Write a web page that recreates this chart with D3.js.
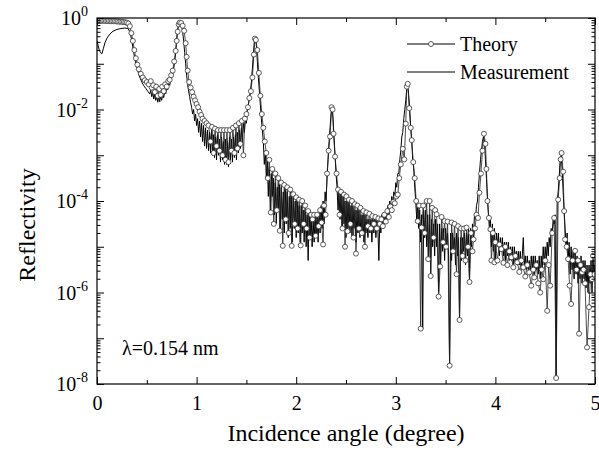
<!DOCTYPE html>
<html>
<head>
<meta charset="utf-8">
<script src="https://cdn.jsdelivr.net/npm/d3@7"></script>
<style>
  body { margin: 0; background: #fff; }
  svg { display: block; }
  text { font-family: "Liberation Serif", "Times New Roman", serif; fill: #000; }
</style>
</head>
<body>
<script>
// x tick values / labels
var angleTicks = [0, 1, 2, 3, 4, 5];
var angleMinorTicks = [0.5, 1.5, 2.5, 3.5, 4.5];
// exponents of the labelled decades on the y axis
var decadeLabels = [0, -2, -4, -6, -8];
var seriesNames = ["Theory", "Measurement"];

// theory: [angle (deg), log10 reflectivity]
var theoryLogR = [
	[0,-0.06],[0.015,-0.06],[0.03,-0.06],[0.045,-0.06],[0.06,-0.06],[0.075,-0.06],[0.09,-0.065],[0.105,-0.065],
	[0.12,-0.065],[0.135,-0.07],[0.15,-0.07],[0.165,-0.07],[0.18,-0.07],[0.195,-0.075],[0.21,-0.075],[0.225,-0.08],
	[0.24,-0.08],[0.255,-0.085],[0.27,-0.09],[0.285,-0.095],[0.3,-0.1],[0.315,-0.12],
	[0.33,-0.18],[0.345,-0.33],[0.36,-0.5],[0.375,-0.7],[0.39,-0.88],[0.405,-1.02],[0.42,-1.12],[0.44,-1.22],
	[0.46,-1.3],[0.48,-1.36],[0.5,-1.4],[0.52,-1.45],[0.54,-1.38],[0.55,-1.52],[0.565,-1.47],[0.58,-1.62],
	[0.595,-1.5],[0.61,-1.7],[0.625,-1.55],[0.64,-1.68],[0.655,-1.5],[0.67,-1.6],[0.685,-1.45],[0.7,-1.5],
	[0.715,-1.38],[0.73,-1.35],[0.745,-1.25],[0.76,-1.15],[0.775,-0.95],[0.79,-0.72],[0.8,-0.5],[0.81,-0.3],
	[0.82,-0.14],[0.83,-0.1],[0.845,-0.11],[0.86,-0.17],[0.875,-0.28],[0.89,-0.55],[0.9,-0.85],[0.91,-1.15],
	[0.925,-1.4],[0.94,-1.52],[0.955,-1.62],[0.97,-1.72],[0.985,-1.8],[1.0,-1.88],[1.015,-1.95],[1.03,-2.05],
	[1.045,-2.12],[1.06,-2.2],[1.08,-2.25],[1.1,-2.3],[1.12,-2.35],[1.14,-2.7],[1.155,-2.38],[1.17,-2.95],
	[1.185,-2.42],[1.2,-2.8],[1.215,-2.45],[1.23,-2.9],[1.245,-2.45],[1.26,-3.0],[1.275,-2.45],[1.29,-3.1],
	[1.305,-2.45],[1.32,-3.15],[1.335,-2.45],[1.35,-2.9],[1.365,-2.4],[1.38,-2.95],[1.395,-2.35],[1.41,-2.85],
	[1.425,-2.3],[1.44,-2.75],[1.455,-2.25],[1.47,-3.0],[1.485,-2.2],[1.5,-2.1],[1.515,-1.95],[1.53,-1.75],
	[1.545,-1.6],[1.56,-1.3],[1.575,-0.8],[1.585,-0.45],[1.595,-0.48],[1.61,-0.7],[1.625,-1.2],[1.64,-1.7],
	[1.655,-2.1],[1.67,-2.4],[1.685,-2.7],[1.7,-2.95],[1.715,-3.5],[1.73,-3.1],[1.745,-4.25],[1.76,-3.3],
	[1.775,-4.5],[1.79,-3.4],[1.805,-4.2],[1.82,-3.5],[1.835,-4.65],[1.85,-3.6],[1.865,-4.98],[1.88,-3.65],
	[1.895,-4.4],[1.91,-3.7],[1.925,-4.7],[1.94,-3.75],[1.955,-4.98],[1.97,-3.85],[1.985,-4.5],[2.0,-3.92],
	[2.015,-4.6],[2.03,-3.97],[2.045,-4.97],[2.06,-4.0],[2.075,-4.5],[2.09,-4.1],[2.105,-4.6],[2.12,-4.22],
	[2.135,-4.8],[2.15,-4.3],[2.165,-4.4],[2.18,-4.3],[2.195,-4.76],[2.21,-4.3],[2.225,-4.55],[2.24,-4.2],
	[2.255,-4.47],[2.27,-4.95],[2.28,-4.1],[2.295,-4.3],[2.31,-3.4],[2.325,-2.9],[2.34,-2.59],[2.355,-1.95],
	[2.365,-2.0],[2.375,-2.53],[2.39,-3.03],[2.405,-3.4],[2.42,-3.75],[2.435,-4.3],[2.45,-3.8],[2.465,-4.6],
	[2.48,-3.86],[2.49,-5.0],[2.505,-3.9],[2.515,-4.66],[2.53,-3.97],[2.545,-4.5],[2.56,-4.0],[2.575,-4.8],
	[2.59,-4.07],[2.6,-5.15],[2.615,-4.1],[2.63,-4.6],[2.645,-4.15],[2.66,-4.7],[2.675,-4.22],[2.69,-5.0],
	[2.705,-4.25],[2.72,-4.55],[2.735,-4.28],[2.75,-4.6],[2.765,-4.33],[2.78,-4.5],[2.795,-4.35],[2.81,-4.6],
	[2.825,-4.38],[2.84,-4.5],[2.855,-4.4],[2.87,-4.55],[2.885,-4.3],[2.9,-4.45],[2.915,-4.22],[2.93,-4.35],
	[2.945,-4.12],[2.96,-4.2],[2.975,-4.02],[2.99,-4.05],[3.005,-3.9],[3.02,-3.86],[3.035,-3.5],[3.05,-3.2],
	[3.07,-2.86],[3.085,-3.09],[3.1,-2.31],[3.11,-1.5],[3.12,-1.44],[3.135,-1.97],[3.15,-2.4],[3.16,-2.67],
	[3.175,-3.15],[3.19,-3.5],[3.205,-4.0],[3.22,-4.44],[3.235,-4.1],[3.25,-6.79],[3.26,-4.58],[3.275,-4.1],
	[3.29,-4.7],[3.31,-4.0],[3.325,-5.27],[3.34,-4.0],[3.35,-5.64],[3.365,-4.15],[3.38,-4.8],[3.395,-4.2],
	[3.41,-4.29],[3.43,-6.09],[3.445,-5.43],[3.46,-4.35],[3.475,-4.9],[3.49,-4.44],[3.505,-5.0],[3.52,-4.45],
	[3.54,-7.6],[3.56,-4.47],[3.575,-5.1],[3.59,-4.5],[3.61,-5.6],[3.625,-4.55],[3.64,-6.6],[3.655,-4.6],
	[3.67,-5.2],[3.685,-4.6],[3.7,-5.3],[3.71,-4.58],[3.725,-5.0],[3.74,-5.77],[3.755,-4.7],[3.77,-5.1],
	[3.78,-4.84],[3.795,-4.6],[3.81,-4.3],[3.825,-4.37],[3.84,-3.82],[3.855,-3.4],[3.87,-2.9],[3.885,-2.53],
	[3.9,-2.75],[3.91,-3.3],[3.92,-4.0],[3.935,-4.37],[3.95,-4.62],[3.96,-5.3],[3.975,-4.7],[3.99,-5.34],
	[4.0,-4.9],[4.02,-5.3],[4.04,-4.95],[4.06,-5.05],[4.08,-5.35],[4.1,-5.0],[4.12,-5.4],[4.14,-5.1],
	[4.16,-5.23],[4.18,-5.45],[4.2,-5.2],[4.22,-5.34],[4.24,-5.55],[4.26,-5.3],[4.28,-5.45],[4.3,-5.65],
	[4.32,-5.4],[4.34,-5.56],[4.36,-5.85],[4.38,-5.5],[4.39,-5.67],[4.41,-5.4],[4.43,-5.8],[4.45,-6.0],
	[4.465,-5.5],[4.48,-5.71],[4.5,-5.3],[4.52,-6.4],[4.535,-5.4],[4.55,-5.85],[4.57,-4.7],[4.59,-4.37],
	[4.61,-7.87],[4.63,-3.97],[4.645,-3.5],[4.655,-3.09],[4.665,-2.95],[4.68,-3.36],[4.69,-4.22],[4.7,-4.84],
	[4.715,-5.0],[4.73,-5.27],[4.745,-5.85],[4.76,-6.25],[4.775,-5.3],[4.8,-5.09],[4.815,-5.5],[4.83,-5.3],
	[4.84,-6.9],[4.855,-5.4],[4.87,-5.56],[4.885,-5.5],[4.9,-5.8],[4.92,-7.2],[4.94,-6.32],[4.955,-5.6],
	[4.97,-5.71],[4.98,-5.2],[4.995,-5.6]
];

// measurement: [angle (deg), log10 reflectivity]
var measuredLogR = [
	[0,-0.5],[0.02,-0.68],[0.035,-0.76],[0.05,-0.78],[0.065,-0.66],[0.08,-0.54],[0.1,-0.44],[0.13,-0.35],
	[0.16,-0.29],[0.2,-0.25],[0.24,-0.23],[0.28,-0.22],[0.31,-0.23],[0.33,-0.3],
	[0.35,-0.5],[0.37,-0.78],[0.39,-1.0],[0.41,-1.16],[0.43,-1.3],[0.45,-1.4],[0.47,-1.48],[0.49,-1.54],
	[0.51,-1.6],[0.53,-1.66],[0.54,-1.58],[0.55,-1.72],[0.56,-1.62],[0.57,-1.77],[0.58,-1.66],[0.59,-1.8],
	[0.6,-1.7],[0.61,-1.84],[0.62,-1.72],[0.63,-1.83],[0.64,-1.7],[0.65,-1.8],[0.66,-1.66],[0.67,-1.74],
	[0.68,-1.6],[0.69,-1.66],[0.7,-1.52],[0.71,-1.57],[0.72,-1.44],[0.73,-1.47],[0.74,-1.36],[0.75,-1.31],
	[0.76,-1.22],[0.77,-1.1],[0.78,-0.95],[0.79,-0.75],[0.8,-0.45],[0.81,-0.25],[0.82,-0.13],[0.83,-0.1],
	[0.84,-0.12],[0.85,-0.18],[0.86,-0.3],[0.87,-0.5],[0.88,-0.75],[0.89,-1.0],[0.9,-1.25],[0.91,-1.45],
	[0.92,-1.6],[0.93,-1.72],
	[0.94,-1.85],[0.95,-1.95],[0.96,-2.1],[0.97,-2.0],[0.98,-2.25],[0.99,-2.1],[1.0,-2.35],[1.01,-2.2],
	[1.02,-2.5],[1.03,-2.25],[1.04,-2.6],[1.05,-2.3],[1.06,-2.7],[1.07,-2.35],[1.08,-2.8],[1.09,-2.4],
	[1.1,-2.85],[1.11,-2.45],[1.12,-2.9],[1.13,-2.5],[1.14,-2.95],[1.15,-2.45],[1.16,-3.0],[1.17,-2.55],
	[1.18,-3.05],[1.19,-2.6],[1.2,-3.1],[1.21,-2.55],[1.22,-3.0],[1.23,-2.65],[1.24,-3.15],[1.25,-2.6],
	[1.26,-3.1],[1.27,-2.7],[1.28,-3.2],[1.29,-2.65],[1.3,-3.2],[1.31,-2.7],[1.32,-3.25],[1.33,-2.6],
	[1.34,-3.1],[1.35,-2.65],[1.36,-3.15],[1.37,-2.6],[1.38,-3.05],[1.39,-2.55],[1.4,-3.1],[1.41,-2.5],
	[1.42,-2.95],[1.43,-2.45],[1.44,-2.85],[1.45,-2.4],[1.46,-2.7],[1.47,-2.3],[1.48,-2.5],[1.49,-2.2],
	[1.5,-2.3],[1.51,-2.0],[1.52,-1.9],[1.53,-1.75],[1.54,-1.6],[1.55,-1.4],[1.56,-1.1],[1.57,-0.8],
	[1.58,-0.5],[1.59,-0.45],[1.6,-0.6],[1.61,-0.95],[1.62,-1.3],[1.63,-1.6],[1.64,-1.9],[1.65,-2.2],
	[1.66,-2.45],[1.67,-2.7],
	[1.68,-3.2],[1.69,-2.9],[1.7,-3.5],[1.71,-3.1],[1.72,-3.9],[1.73,-3.3],[1.74,-4.2],[1.75,-3.4],
	[1.76,-3.9],[1.77,-3.5],[1.78,-4.3],[1.79,-3.6],[1.8,-4.5],[1.81,-3.7],[1.82,-4.2],[1.83,-3.6],
	[1.84,-4.6],[1.85,-3.7],[1.86,-4.4],[1.87,-3.8],[1.88,-4.7],[1.89,-3.7],[1.9,-4.5],[1.91,-3.8],
	[1.92,-4.8],[1.93,-3.9],[1.94,-4.6],[1.95,-3.8],[1.96,-4.9],[1.97,-3.9],[1.98,-4.6],[1.99,-4.0],
	[2.0,-4.8],[2.01,-4.0],[2.02,-4.7],[2.03,-4.1],[2.04,-4.9],[2.05,-4.1],[2.06,-4.7],[2.07,-4.2],
	[2.08,-4.9],[2.09,-4.2],[2.1,-5.0],[2.11,-4.3],[2.12,-5.3],[2.13,-4.3],[2.14,-4.8],[2.15,-4.3],
	[2.16,-5.0],[2.17,-4.4],[2.18,-4.9],[2.19,-4.3],[2.2,-4.8],[2.21,-4.3],[2.22,-4.9],[2.23,-4.2],
	[2.24,-4.7],[2.25,-4.1],[2.26,-4.6],[2.27,-4.0],[2.28,-4.5],[2.29,-3.8],[2.3,-4.0],[2.31,-3.5],
	[2.32,-3.1],[2.33,-2.7],[2.34,-2.4],[2.35,-2.1],[2.36,-1.95],[2.37,-2.2],[2.38,-2.6],[2.39,-3.0],
	[2.4,-3.4],[2.41,-3.7],
	[2.42,-4.2],[2.43,-3.8],[2.44,-4.4],[2.45,-3.8],[2.46,-4.6],[2.47,-3.9],[2.48,-4.5],[2.49,-4.0],
	[2.5,-4.8],[2.51,-4.0],[2.52,-4.6],[2.53,-4.0],[2.54,-4.7],[2.55,-4.1],[2.56,-4.8],[2.57,-4.1],
	[2.58,-4.6],[2.59,-4.2],[2.6,-4.9],[2.61,-4.2],[2.62,-4.7],[2.63,-4.2],[2.64,-4.8],[2.65,-4.3],
	[2.66,-4.7],[2.67,-4.3],[2.68,-4.9],[2.69,-4.3],[2.7,-4.7],[2.71,-4.4],[2.72,-4.8],[2.73,-4.4],
	[2.74,-4.7],[2.75,-4.4],[2.76,-4.9],[2.77,-4.4],[2.78,-4.7],[2.79,-4.3],[2.8,-4.8],[2.81,-4.4],
	[2.82,-4.6],[2.83,-5.3],[2.84,-4.4],[2.85,-4.7],[2.86,-4.3],[2.87,-4.6],[2.88,-4.3],[2.89,-4.5],
	[2.9,-4.2],[2.91,-4.4],[2.92,-4.1],[2.93,-4.3],[2.94,-4.0],[2.95,-4.2],[2.96,-3.9],[2.97,-4.1],
	[2.98,-3.8],[2.99,-3.9],[3.0,-3.6],[3.01,-3.7],[3.02,-3.4],[3.03,-3.4],[3.04,-3.1],[3.05,-2.9],
	[3.06,-2.6],[3.07,-2.5],[3.08,-2.2],[3.09,-2.0],[3.1,-1.8],[3.11,-1.55],[3.12,-1.45],[3.13,-1.7],
	[3.14,-2.0],[3.15,-2.4],[3.16,-2.7],[3.17,-3.1],[3.18,-3.3],[3.19,-3.7],[3.2,-4.0],
	[3.21,-4.4],[3.22,-4.1],[3.23,-4.6],[3.24,-4.2],[3.25,-4.9],[3.26,-4.3],[3.27,-6.8],[3.28,-4.2],
	[3.29,-4.8],[3.3,-4.2],[3.31,-5.0],[3.32,-4.3],[3.33,-5.3],[3.34,-4.3],[3.35,-5.6],[3.36,-4.4],
	[3.37,-5.0],[3.38,-4.5],[3.39,-5.2],[3.4,-4.4],[3.41,-5.0],[3.42,-4.5],[3.43,-6.0],[3.44,-4.5],
	[3.45,-5.4],[3.46,-4.6],[3.47,-5.1],[3.48,-4.6],[3.49,-5.3],[3.5,-4.6],[3.51,-5.0],[3.52,-4.7],
	[3.53,-5.2],[3.54,-7.6],[3.55,-4.7],[3.56,-5.3],[3.57,-4.7],[3.58,-5.1],[3.59,-4.8],[3.6,-5.4],
	[3.61,-4.7],[3.62,-5.2],[3.63,-4.8],[3.64,-6.6],[3.65,-4.8],[3.66,-5.3],[3.67,-4.8],[3.68,-5.1],
	[3.69,-4.7],[3.7,-5.4],[3.71,-4.7],[3.72,-5.2],[3.73,-4.6],[3.74,-5.7],[3.75,-4.6],[3.76,-5.0],
	[3.77,-4.5],[3.78,-4.8],[3.79,-4.3],[3.8,-4.4],[3.81,-4.1],[3.82,-4.0],[3.83,-3.7],[3.84,-3.4],
	[3.85,-3.1],[3.86,-2.9],[3.87,-2.7],[3.88,-2.6],[3.89,-2.7],[3.9,-3.1],[3.91,-3.5],[3.92,-3.9],
	[3.93,-4.3],
	[3.94,-4.6],[3.95,-4.4],[3.96,-5.0],[3.97,-4.5],[3.98,-5.1],[3.99,-4.6],[4.0,-5.3],[4.01,-4.7],
	[4.02,-5.0],[4.03,-4.7],[4.04,-5.2],[4.05,-4.8],[4.06,-5.1],[4.07,-4.8],[4.08,-5.2],[4.09,-4.9],
	[4.1,-5.3],[4.11,-4.9],[4.12,-5.2],[4.13,-4.9],[4.14,-5.3],[4.15,-5.0],[4.16,-5.3],[4.17,-5.0],
	[4.18,-5.4],[4.19,-5.0],[4.2,-5.3],[4.21,-5.1],[4.22,-5.4],[4.23,-5.1],[4.24,-5.4],[4.25,-5.1],
	[4.26,-5.5],[4.27,-5.2],[4.28,-4.8],[4.29,-5.4],[4.3,-5.2],[4.31,-5.5],[4.32,-5.2],[4.33,-5.5],
	[4.34,-5.3],[4.35,-5.6],[4.36,-5.2],[4.37,-5.5],[4.38,-5.2],[4.39,-5.6],[4.4,-5.2],[4.41,-5.5],
	[4.42,-5.3],[4.43,-5.6],[4.44,-5.2],[4.45,-5.7],[4.46,-5.2],[4.47,-5.5],[4.48,-5.0],[4.49,-5.4],
	[4.5,-5.0],[4.51,-5.3],[4.52,-4.9],[4.53,-5.2],[4.54,-4.8],[4.55,-5.0],[4.56,-4.6],[4.57,-4.7],
	[4.58,-4.4],[4.59,-4.5],[4.6,-4.3],[4.61,-7.9],[4.62,-4.0],[4.63,-3.8],[4.64,-3.5],[4.65,-3.1],
	[4.66,-3.0],[4.67,-3.3],[4.68,-3.8],[4.69,-4.2],[4.7,-4.6],
	[4.71,-5.0],[4.72,-4.7],[4.73,-5.3],[4.74,-4.9],[4.75,-5.6],[4.76,-5.0],[4.77,-5.5],[4.78,-5.1],
	[4.79,-5.7],[4.8,-5.1],[4.81,-5.6],[4.82,-5.2],[4.83,-5.8],[4.84,-5.3],[4.85,-5.7],[4.86,-5.2],
	[4.87,-5.8],[4.88,-5.3],[4.89,-5.7],[4.9,-5.3],[4.91,-5.9],[4.92,-5.4],[4.93,-6.0],[4.94,-5.4],
	[4.95,-5.8],[4.96,-5.3],[4.97,-6.0],[4.98,-5.3],[4.99,-5.6],[5.0,-5.4]
];

function main(){
	var w = 599;
	var h = 456;
	var left = 97, right = 595, top = 18, bottom = 384;
	var font = 20;

	var theory = theoryLogR.map(d => ({angle: d[0], r: Math.pow(10, d[1])}));
	var measured = measuredLogR.map(d => ({angle: d[0], r: Math.pow(10, d[1])}));

	var svg = d3.select("body")
				.append("svg")
				.attr("width", w)
				.attr("height", h);

	var xScale = d3.scaleLinear()
					.domain([0, 5])
					.range([left, right]);

	var yScale = d3.scaleLog()
					.domain([1e-8, 1])
					.range([bottom, top]);

	var clip = svg.append("clipPath").attr("id", "plot-clip")
			.append("rect")
			.attr("x", left).attr("y", top)
			.attr("width", right - left).attr("height", bottom - top);

	var line = d3.line()
				.x(function(d){ return xScale(d.angle); })
				.y(function(d){ return yScale(d.r); });

	var plot = svg.append("g").attr("clip-path", "url(#plot-clip)");

	// measurement
	plot.append("path")
			.datum(measured)
			.attr("d", line)
			.attr("fill", "none")
			.attr("stroke", "#000")
			.attr("stroke-width", 1);

	// theory line + open circles
	plot.append("path")
			.datum(theory)
			.attr("d", line)
			.attr("fill", "none")
			.attr("stroke", "#222")
			.attr("stroke-width", 0.8);

	plot.selectAll("circle.theory")
			.data(theory)
			.enter()
			.append("circle")
			.attr("class", "theory")
			.attr("cx", function(d){ return xScale(d.angle); })
			.attr("cy", function(d){ return yScale(d.r); })
			.attr("r", 2.5)
			.attr("fill", "#fff")
			.attr("stroke", "#333")
			.attr("stroke-width", 0.8);

	// axes, ticks pointing inward
	var yTicks = yScale.ticks();
	var isDecade = function(v){ var e = Math.log10(v); return Math.abs(e - Math.round(e)) < 1e-6; };
	var yMajor = yTicks.filter(isDecade);
	var yMinor = yTicks.filter(function(v){ return !isDecade(v); });

	var xAxis = d3.axisBottom(xScale).tickValues(angleTicks).tickSize(-7).tickSizeOuter(0)
					.tickPadding(12).tickFormat(d3.format("d"));
	var xMinorAxis = d3.axisBottom(xScale).tickValues(angleMinorTicks).tickSize(-4).tickSizeOuter(0).tickFormat("");
	var xTopAxis = d3.axisTop(xScale).tickValues(angleTicks).tickSize(-7).tickSizeOuter(0).tickFormat("");
	var xTopMinor = d3.axisTop(xScale).tickValues(angleMinorTicks).tickSize(-4).tickSizeOuter(0).tickFormat("");
	var yAxis = d3.axisLeft(yScale).tickValues(yMajor).tickSize(-7).tickSizeOuter(0).tickFormat("");
	var yMinorAxis = d3.axisLeft(yScale).tickValues(yMinor).tickSize(-3.5).tickSizeOuter(0).tickFormat("");
	var yRightAxis = d3.axisRight(yScale).tickValues(yMajor).tickSize(-7).tickSizeOuter(0).tickFormat("");
	var yRightMinor = d3.axisRight(yScale).tickValues(yMinor).tickSize(-3.5).tickSizeOuter(0).tickFormat("");

	var axes = svg.append("g").attr("class", "axes");
	axes.append("g").attr("transform", "translate(0," + bottom + ")").call(xAxis);
	axes.append("g").attr("transform", "translate(0," + bottom + ")").call(xMinorAxis);
	axes.append("g").attr("transform", "translate(0," + top + ")").call(xTopAxis);
	axes.append("g").attr("transform", "translate(0," + top + ")").call(xTopMinor);
	axes.append("g").attr("transform", "translate(" + left + ",0)").call(yAxis);
	axes.append("g").attr("transform", "translate(" + left + ",0)").call(yMinorAxis);
	axes.append("g").attr("transform", "translate(" + right + ",0)").call(yRightAxis);
	axes.append("g").attr("transform", "translate(" + right + ",0)").call(yRightMinor);

	axes.selectAll(".domain").remove();
	axes.selectAll(".tick line").attr("stroke", "#000").attr("stroke-width", 1);
	axes.selectAll(".tick text")
			.attr("font-family", "Liberation Serif, Times New Roman, serif")
			.attr("font-size", font)
			.attr("fill", "#000");

	// frame
	svg.append("rect")
			.attr("x", left).attr("y", top)
			.attr("width", right - left).attr("height", bottom - top)
			.attr("fill", "none")
			.attr("stroke", "#000")
			.attr("stroke-width", 1.2);

	// y tick labels as 10^n
	var yLab = svg.append("g");
	decadeLabels.forEach(function(e){
		var t = yLab.append("text")
				.attr("x", left - 9)
				.attr("y", yScale(Math.pow(10, e)) + 7)
				.attr("text-anchor", "end")
				.attr("font-size", font);
		t.append("tspan").text("10");
		t.append("tspan").attr("dy", -9).attr("font-size", 14).text(e === 0 ? "0" : String(e));
	});

	// axis titles
	svg.append("text")
			.attr("x", (left + right) / 2)
			.attr("y", 441)
			.attr("text-anchor", "middle")
			.attr("font-size", 24)
			.text("Incidence angle (degree)");

	svg.append("text")
			.attr("transform", "translate(35," + ((top + bottom) / 2 + 24) + ") rotate(-90)")
			.attr("text-anchor", "middle")
			.attr("font-size", 24)
			.text("Reflectivity");

	// wavelength note
	svg.append("text")
			.attr("x", 122)
			.attr("y", 355)
			.attr("font-size", font)
			.text("\u03bb=0.154 nm");

	// legend
	var legend = svg.append("g");
	var legendY = [44, 72];
	seriesNames.forEach(function(name, i){
		var ly = legendY[i];
		legend.append("line")
				.attr("x1", 407).attr("x2", 455)
				.attr("y1", ly).attr("y2", ly)
				.attr("stroke", "#000").attr("stroke-width", 1);
		if (i === 0) {
			legend.append("circle")
					.attr("cx", 431).attr("cy", ly).attr("r", 2.5)
					.attr("fill", "#fff").attr("stroke", "#333").attr("stroke-width", 0.8);
		}
		legend.append("text")
				.attr("x", 460)
				.attr("y", ly + 7)
				.attr("font-size", font)
				.text(name);
	});
}

main();
</script>
</body>
</html>
